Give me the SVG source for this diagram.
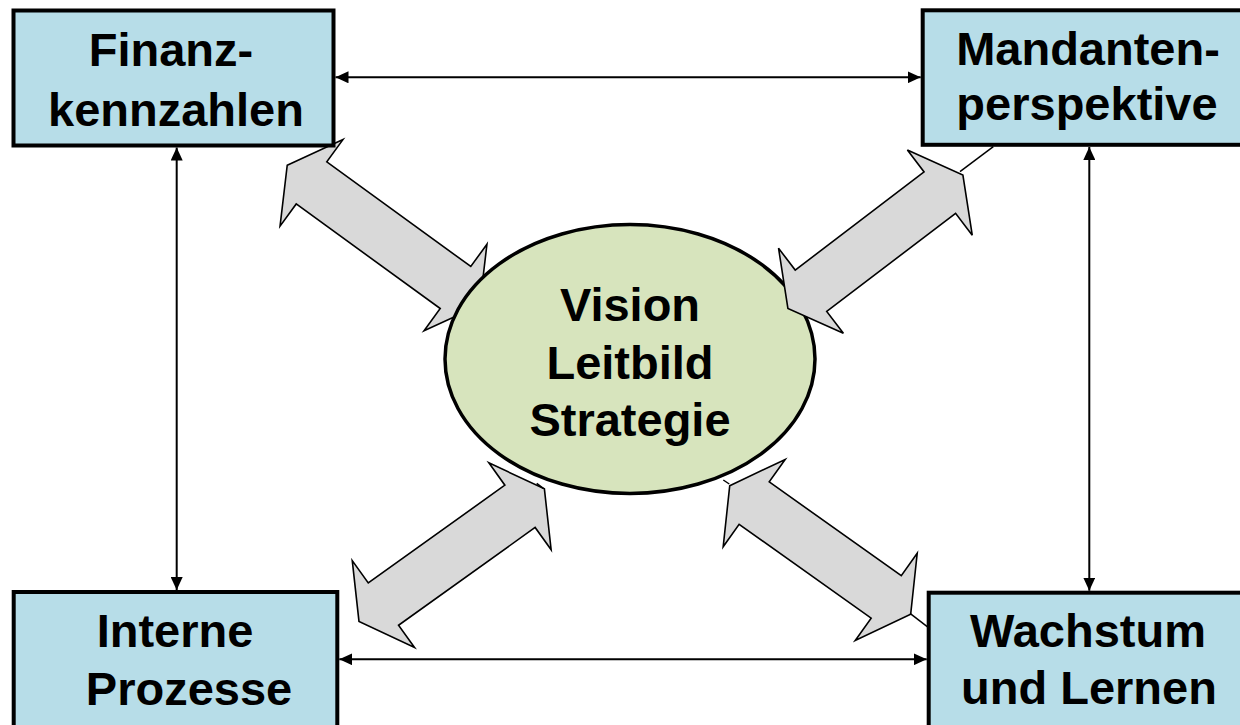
<svg xmlns="http://www.w3.org/2000/svg" width="1240" height="725" viewBox="0 0 1240 725">
  <style>
    .box { fill: #b7dde8; stroke: #000; stroke-width: 4; }
    .hub { fill: #d7e4bd; stroke: #000; stroke-width: 3.5; }
    .big { fill: #d9d9d9; stroke: #000; stroke-width: 1.6; stroke-linejoin: miter; }
    .link { fill: none; stroke: #000; stroke-width: 2; }
    .stub { fill: none; stroke: #000; stroke-width: 1.5; }
    .lbl { font-family: "Liberation Sans", Arial, sans-serif; font-weight: bold; font-size: 47px; fill: #000; text-anchor: middle; }
  </style>
  <defs>
    <marker id="tip" viewBox="0 0 13 12" refX="13" refY="6" markerWidth="13" markerHeight="12" markerUnits="userSpaceOnUse" orient="auto-start-reverse">
      <path d="M0,0 L13,6 L0,12 Z" fill="#000"/>
    </marker>
  </defs>

  <rect width="1240" height="725" fill="#fff"/>

  <!-- broad double arrows between the hub and the four perspectives -->
  <g id="big-arrows">
    <path id="arrow-tl" class="big" transform="translate(383.5,235.2) rotate(36)" d="M-119,0 L-89,-53.5 L-89,-26 L89,-26 L89,-53.5 L119,0 L89,53.5 L89,26 L-89,26 L-89,53.5 Z"/>
  </g>

  <g id="hub">
    <ellipse class="hub" cx="630" cy="359" rx="185" ry="134.5"/>
    <text class="lbl" x="630" y="321">Vision</text>
    <text class="lbl" x="630" y="378.5">Leitbild</text>
    <text class="lbl" x="630" y="436">Strategie</text>
  </g>

  <g id="big-arrows-front">
    <path id="arrow-tr" class="big" transform="translate(875.4,241.7) rotate(-37.3)" d="M-110,0 L-81,-53.5 L-81,-26 L81,-26 L81,-53.5 L110,0 L81,53.5 L81,26 L-81,26 L-81,53.5 Z"/>
    <path id="arrow-bl" class="big" transform="translate(451.7,555.2) rotate(-35.6)" d="M-114,0 L-84,-53.5 L-84,-26 L84,-26 L84,-53.5 L114,0 L84,53.5 L84,26 L-84,26 L-84,53.5 Z"/>
    <path id="arrow-br" class="big" transform="translate(820.2,550) rotate(35.4)" d="M-111,0 L-81,-53.5 L-81,-26 L81,-26 L81,-53.5 L111,0 L81,53.5 L81,26 L-81,26 L-81,53.5 Z"/>
  </g>

  <!-- short leader lines at the arrow tips -->
  <g id="leaders">
    <line class="stub" x1="960" y1="171.7" x2="993.3" y2="146.7"/>
    <line class="stub" x1="910" y1="613.3" x2="935" y2="632.7"/>
    <line class="stub" x1="536.7" y1="483.3" x2="543.3" y2="488.3"/>
    <line class="stub" x1="723.3" y1="480" x2="729.3" y2="484"/>
  </g>

  <!-- thin connectors between neighbouring perspectives -->
  <g id="connectors">
    <line class="link" x1="335.5" y1="77.3" x2="920.7" y2="77.3" marker-start="url(#tip)" marker-end="url(#tip)"/>
    <line class="link" x1="176.7" y1="147.5" x2="176.7" y2="590" marker-start="url(#tip)" marker-end="url(#tip)"/>
    <line class="link" x1="1089.3" y1="147" x2="1089.3" y2="590.7" marker-start="url(#tip)" marker-end="url(#tip)"/>
    <line class="link" x1="339.3" y1="659.3" x2="926.7" y2="659.3" marker-start="url(#tip)" marker-end="url(#tip)"/>
  </g>

  <g id="finanzkennzahlen">
    <rect class="box" x="13.5" y="10.5" width="320" height="135"/>
    <text class="lbl" x="171" y="66">Finanz-</text>
    <text class="lbl" x="176" y="126">kennzahlen</text>
  </g>

  <g id="mandantenperspektive">
    <rect class="box" x="922.7" y="10.3" width="330" height="134.5"/>
    <text class="lbl" x="1088" y="65">Mandanten-</text>
    <text class="lbl" x="1087" y="120">perspektive</text>
  </g>

  <g id="interne-prozesse">
    <rect class="box" x="13.7" y="592" width="323.6" height="150"/>
    <text class="lbl" x="175" y="647">Interne</text>
    <text class="lbl" x="189" y="705">Prozesse</text>
  </g>

  <g id="wachstum-lernen">
    <rect class="box" x="928.7" y="592.7" width="330" height="150"/>
    <text class="lbl" x="1088" y="647">Wachstum</text>
    <text class="lbl" x="1089" y="704">und Lernen</text>
  </g>
</svg>
